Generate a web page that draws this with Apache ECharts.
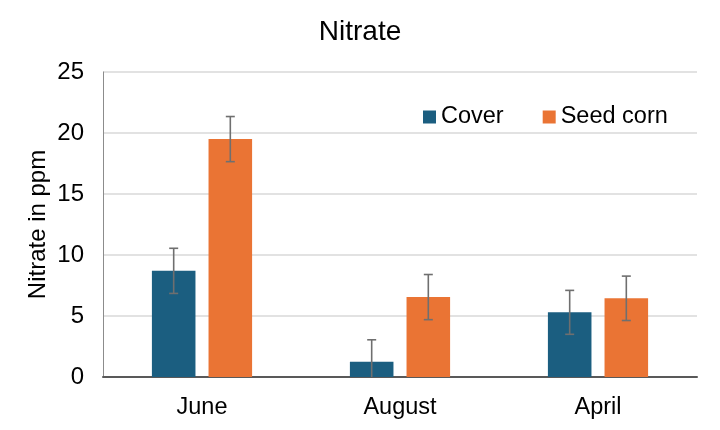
<!DOCTYPE html>
<html>
<head>
<meta charset="utf-8">
<script src="https://cdn.jsdelivr.net/npm/echarts@6/dist/echarts.min.js"></script>
<style>html,body{margin:0;padding:0;background:#fff}#c{width:720px;height:430px}</style>
</head>
<body>
<div id="c"></div>
<script>
var categories = ['June', 'August', 'April'];
var coverValues = [8.7, 1.25, 5.3];
var coverErrors = [1.85, 1.8, 1.8];
var seedValues = [19.5, 6.55, 6.45];
var seedErrors = [1.85, 1.85, 1.82];
var yTicks = [0, 5, 10, 15, 20, 25];

var FONT = 'Liberation Sans, Arial, sans-serif';
var BAR_W = 0.22, BAR_GAP = 0.30;
function errData(vals, errs) {
  return vals.map(function (v, i) { return [i, Math.max(0, v - errs[i]), v + errs[i], v - errs[i] >= 0 ? 1 : 0]; });
}
function errRender(sign) {
  return function (params, api) {
    var idx = api.value(0);
    var band = api.size([1, 0])[0];
    var off = sign * band * BAR_W * (1 + BAR_GAP) / 2;
    var hi = api.coord([idx, api.value(2)]);
    var lo = api.coord([idx, api.value(1)]);
    var x = hi[0] + off;
    var cap = 4.5;
    var st = { stroke: '#6f6f6f', lineWidth: 1.6 };
    var children = [
      { type: 'line', shape: { x1: x, y1: hi[1], x2: x, y2: lo[1] }, style: st },
      { type: 'line', shape: { x1: x - cap, y1: hi[1], x2: x + cap, y2: hi[1] }, style: st }
    ];
    if (api.value(3) === 1) {
      children.push({ type: 'line', shape: { x1: x - cap, y1: lo[1], x2: x + cap, y2: lo[1] }, style: st });
    }
    return { type: 'group', children: children };
  };
}

var chart = echarts.init(document.getElementById('c'), null, { renderer: 'canvas' });
chart.setOption({
  animation: false,
  textStyle: { fontFamily: FONT },
  title: { text: 'Nitrate', left: 'center', top: 13, textStyle: { fontSize: 28, fontWeight: 'normal', color: '#000', fontFamily: FONT } },
  legend: {
    data: ['Cover', 'Seed corn'], left: 418, top: 100, itemWidth: 13, itemHeight: 13, itemGap: 39,
    icon: 'rect',
    textStyle: { fontSize: 23.5, color: '#000', fontFamily: FONT }
  },
  grid: { left: 103, right: 23, top: 72, bottom: 53 },
  xAxis: {
    type: 'category', data: categories,
    axisLine: { lineStyle: { color: '#595959', width: 2 } },
    axisTick: { show: false },
    axisLabel: { fontSize: 23.5, color: '#000', margin: 19 }
  },
  yAxis: {
    type: 'value', min: 0, max: 25, interval: 5,
    name: 'Nitrate in ppm', nameLocation: 'middle', nameGap: 53, nameMoveOverlap: false,
    nameTextStyle: { fontSize: 24, color: '#000' },
    axisLine: { show: true, lineStyle: { color: '#8c8c8c', width: 1 } },
    axisTick: { show: false },
    axisLabel: { fontSize: 24, color: '#000', margin: 19, formatter: function (v) { return yTicks.indexOf(v) >= 0 ? String(v) : ''; } },
    splitLine: { lineStyle: { color: '#d9d9d9', width: 1.5 } }
  },
  series: [
    { name: 'Cover', type: 'bar', data: coverValues, barWidth: '22%', barGap: '30%', itemStyle: { color: '#1b5e80' } },
    { name: 'Seed corn', type: 'bar', data: seedValues, barWidth: '22%', barGap: '30%', itemStyle: { color: '#ea7434' } },
    { name: 'coverErr', type: 'custom', renderItem: errRender(-1), data: errData(coverValues, coverErrors), encode: { x: 0, y: [1, 2] }, z: 10 },
    { name: 'seedErr', type: 'custom', renderItem: errRender(1), data: errData(seedValues, seedErrors), encode: { x: 0, y: [1, 2] }, z: 10 }
  ]
});
</script>
</body>
</html>
